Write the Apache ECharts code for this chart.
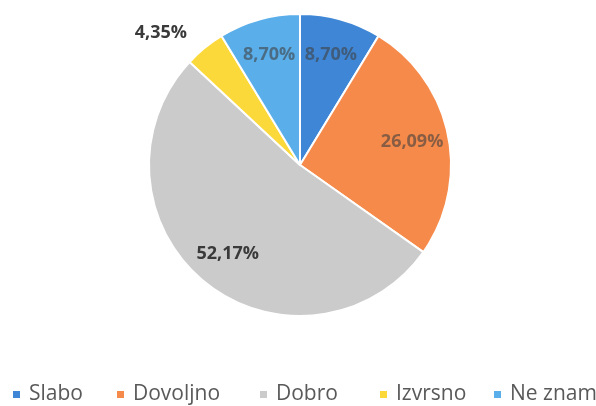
<!DOCTYPE html>
<html>
<head>
<meta charset="utf-8">
<script src="https://cdn.jsdelivr.net/npm/echarts@6/dist/echarts.min.js"></script>
<style>
  html, body { margin: 0; padding: 0; background: #fff; }
  #chart { width: 596px; height: 406px; }
</style>
</head>
<body>
<div id="chart"></div>
<script>
// Answer categories and their shares (percent)
const categories = ['Slabo', 'Dovoljno', 'Dobro', 'Izvrsno', 'Ne znam'];
const shares = [8.70, 26.09, 52.17, 4.35, 8.70];
const colors = ['#3f87d6', '#f58a4b', '#cbcbcb', '#fcd93a', '#5aaeea'];
// Label colour per slice (semi-transparent text over the coloured slices)
const labelColors = ['rgba(64,64,64,0.6)', 'rgba(64,64,64,0.6)', '#3a3a3a', '#3a3a3a', 'rgba(64,64,64,0.6)'];
// Slices whose label sits outside the pie
const outsideLabel = [false, false, false, true, false];
// Left edge of each legend entry along the bottom row
const legendLeft = [11, 115, 258, 378, 492];

const fmt = v => v.toFixed(2).replace('.', ',') + '%';
const FONT = 'Open Sans';
const CX = 300, CY = 165, R = 151;

const chart = echarts.init(document.getElementById('chart'), null, { renderer: 'canvas' });

const sliceData = categories.map((name, i) => ({
  name,
  value: shares[i],
  itemStyle: { color: colors[i] },
  label: outsideLabel[i]
    ? { show: true, position: 'outside', color: labelColors[i] }
    : { show: false }
}));

// Transparent ring of the same angles, only used to place inside labels further out
const labelData = categories.map((name, i) => ({
  name,
  value: shares[i],
  itemStyle: { color: 'rgba(0,0,0,0)', borderWidth: 0 },
  label: { show: !outsideLabel[i], color: labelColors[i] }
}));

// One legend entry per category, spread along the bottom
const legends = categories.map((name, i) => ({
  top: 384,
  left: legendLeft[i],
  padding: 0,
  itemWidth: 9,
  itemHeight: 9,
  icon: 'rect',
  textStyle: { fontFamily: FONT, fontSize: 21, color: '#595959', padding: [0, 0, 0, 3] },
  data: [name]
}));

chart.setOption({
  animation: false,
  backgroundColor: '#ffffff',
  color: colors,
  legend: legends,
  series: [
    {
      type: 'pie',
      center: [CX, CY],
      radius: [0, R],
      startAngle: 90,
      clockwise: true,
      data: sliceData,
      itemStyle: { borderColor: '#ffffff', borderWidth: 2 },
      label: {
        fontFamily: FONT,
        fontSize: 18,
        fontWeight: 'bold',
        formatter: p => fmt(p.value)
      },
      labelLine: { show: false, length: 20, length2: 0 },
      emphasis: { disabled: true }
    },
    {
      type: 'pie',
      center: [CX, CY],
      radius: [0, Math.round(R * 1.48)],
      startAngle: 90,
      clockwise: true,
      silent: true,
      z: 3,
      data: labelData,
      label: {
        position: 'inside',
        fontFamily: FONT,
        fontSize: 18,
        fontWeight: 'bold',
        formatter: p => fmt(p.value)
      },
      labelLine: { show: false },
      emphasis: { disabled: true },
      tooltip: { show: false }
    }
  ]
});
</script>
</body>
</html>
